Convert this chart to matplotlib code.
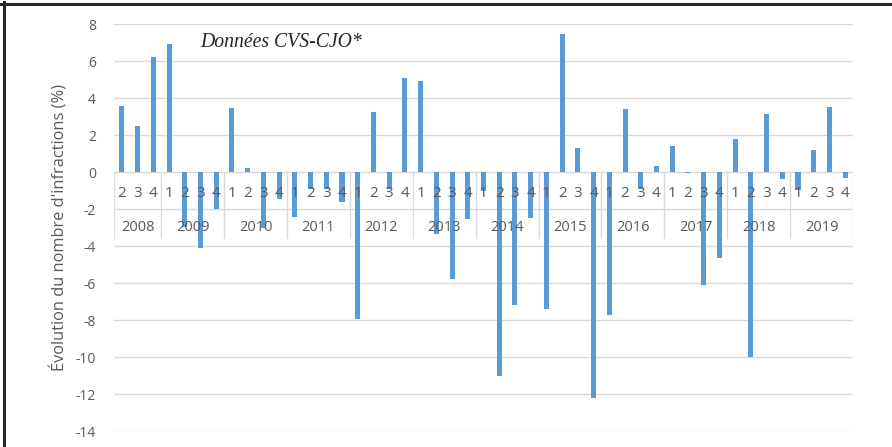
import matplotlib
matplotlib.use("Agg")
import matplotlib.pyplot as plt
from matplotlib.lines import Line2D

plt.rcParams["font.family"] = ["Open Sans", "DejaVu Sans"]
plt.rcParams["axes.unicode_minus"] = False

years = [2008, 2009, 2010, 2011, 2012, 2013, 2014, 2015, 2016, 2017, 2018, 2019]
quarters = [2, 3, 4] + [1, 2, 3, 4] * 11
values = [
    3.6, 2.5, 6.25,  # 2008
    6.92, -2.94, -4.07, -1.96,  # 2009
    3.48, 0.25, -3.03, -1.42,  # 2010
    -2.43, -0.88, -0.88, -1.59,  # 2011
    -7.95, 3.26, -0.88, 5.08,  # 2012
    4.93, -3.34, -5.77, -2.5,  # 2013
    -1.0, -11.0, -7.19, -2.46,  # 2014
    -7.41, 7.46, 1.33, -12.18,  # 2015
    -7.71, 3.4, -0.88, 0.36,  # 2016
    1.44, -0.06, -6.09, -4.65,  # 2017
    1.8, -9.97, 3.17, -0.37,  # 2018
    -0.97, 1.19, 3.53, -0.29,  # 2019
]
ylabel = "Évolution du nombre d'infractions (%)"
note = "Données CVS-CJO*"

grey_text = "#595959"
grid_col = "#d9d9d9"
bar_col = "#5b9bd5"

fig = plt.figure(figsize=(8.92, 4.47), dpi=100)
ax = fig.add_axes([0.1278, 0.0351, 0.8285, 0.9105])

x = list(range(len(values)))
ax.bar(x, values, width=0.32, color=bar_col, zorder=2)

ax.set_xlim(-0.5, len(values) - 0.5)
ax.set_ylim(-14, 8)
ax.set_yticks(range(-14, 9, 2))
ax.tick_params(axis="y", length=0, pad=13, labelsize=10, labelcolor=grey_text)
ax.set_xticks([])
for s in ax.spines.values():
    s.set_visible(False)
for t in range(-14, 9, 2):
    ax.axhline(t, color=grid_col, lw=1, zorder=0)

ax.set_ylabel(ylabel, fontsize=11.8, color=grey_text, labelpad=5)

# category axis: quarters then years, with year separators
for i, q in enumerate(quarters):
    ax.text(i, -1.12, str(q), ha="center", va="center", fontsize=11,
            color=grey_text, zorder=3)
start = 0
seps = [-0.5]
for yr in years:
    n = 3 if yr == 2008 else 4
    ax.text(start + (n - 1) / 2, -2.96, str(yr), ha="center", va="center",
            fontsize=10.5, color=grey_text, zorder=3)
    start += n
    seps.append(start - 0.5)
for s in seps:
    ax.plot([s, s], [0, -3.55], color=grid_col, lw=1, zorder=1)

ax.text(0.116, 0.955, note, transform=ax.transAxes, fontsize=14.2,
        family="Liberation Serif", style="italic", color="#262626",
        ha="left", va="center")

# frame of the original figure (left and top edges)
fig.add_artist(Line2D([0.004, 0.004], [0, 0.995], transform=fig.transFigure,
                      color="#262626", lw=2.2))
fig.add_artist(Line2D([0.0, 1.0], [0.992, 0.992], transform=fig.transFigure,
                      color="#262626", lw=2.2))

fig.savefig("out.png", dpi=100)
